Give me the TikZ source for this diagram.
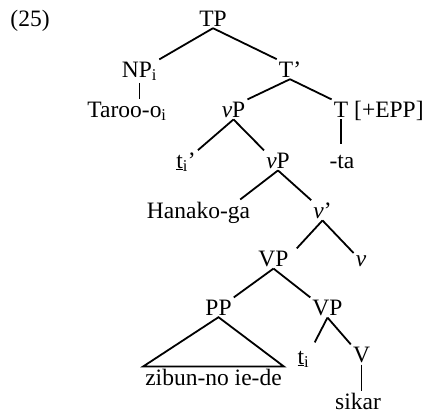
\documentclass[tikz,border=0pt]{standalone}
\usepackage{fontspec}
\setmainfont{Liberation Serif}
\usepackage{tikz}

\begin{document}
\begin{tikzpicture}[x=1pt, y=-1pt, font={\fontsize{23.5}{28}\selectfont},
    lbl/.style={anchor=base, inner sep=2pt},
    branch/.style={line width=1.8pt}]
    \useasboundingbox (0,0) rectangle (425,413);
    \node[lbl] (num) at (30,26) {(25)};

    % upper part
    \node[lbl] (tp) at (213,26) {TP};
    \node[lbl] (np) at (139.5,77) {NP\textsubscript{i}};
    \node[lbl] (tbar) at (290,77) {T’};
    \node[lbl] (taroo) at (127,117) {Taroo-o\textsubscript{i}};
    \node[lbl] (vp) at (233.5,117) {\textit{v}P};
    \node[lbl] (t) at (341,117) {T};
    \node[lbl, anchor=base west, inner sep=0pt] (epp) at (354,117) {\relax[+EPP]};
    \node[lbl] (trace) at (186,168) {\underline{t}\textsubscript{i}’};
    \node[lbl] (vpp) at (278,168) {\textit{v}P};
    \node[lbl] (ta) at (342,168) {-ta};

    % middle part
    \node[lbl] (hanako) at (198.5,218) {Hanako-ga};
    \node[lbl] (vbar) at (322.5,218) {\textit{v}’};
    \node[lbl] (vP) at (273.5,266) {VP};
    \node[lbl] (v) at (361,266) {\textit{v}};

    % lower part
    \node[lbl] (pp) at (218.5,315) {PP};
    \node[lbl] (vpl) at (327.5,315) {VP};
    \node[lbl] (zibun) at (213.5,385) {zibun-no ie-de};
    \node[lbl] (ti) at (303.5,364) {\underline{t}\textsubscript{i}};
    \node[lbl] (verb) at (361.5,362) {V};
    \node[lbl] (sikar) at (358,409) {sikar};

    \draw[branch] (tp.south) -- (np.north east);
    \draw[branch] (tp.south) -- (tbar.north west);
    \draw[branch] (np.south) -- (np.south |- taroo.north);
    \draw[branch] (tbar.south) -- (vp.north east);
    \draw[branch] (tbar.south) -- (t.north west);
    \draw[branch, shorten >=9pt] (t.south) -- (t.south |- ta.north);
    \draw[branch] (vp.south) -- (trace.north east);
    \draw[branch] (vp.south) -- (vpp.north west);
    \draw[branch] (vpp.south) -- ([xshift=-12pt]hanako.north east);
    \draw[branch] (vpp.south) -- (vbar.north west);
    \draw[branch] (vbar.south) -- ([xshift=6pt]vP.north east);
    \draw[branch] (vbar.south) -- (v.north west);
    \draw[branch] (vP.south) -- (pp.north east);
    \draw[branch] (vP.south) -- (vpl.north west);
    \draw[branch] (pp.south) -- (zibun.north west) -- (zibun.north east) -- cycle;
    \draw[branch, shorten >=7pt] (vpl.south) -- (ti.north east);
    \draw[branch] (vpl.south) -- (verb.north west);
    \draw[branch] (verb.south) -- (verb.south |- sikar.north);
\end{tikzpicture}
\end{document}
